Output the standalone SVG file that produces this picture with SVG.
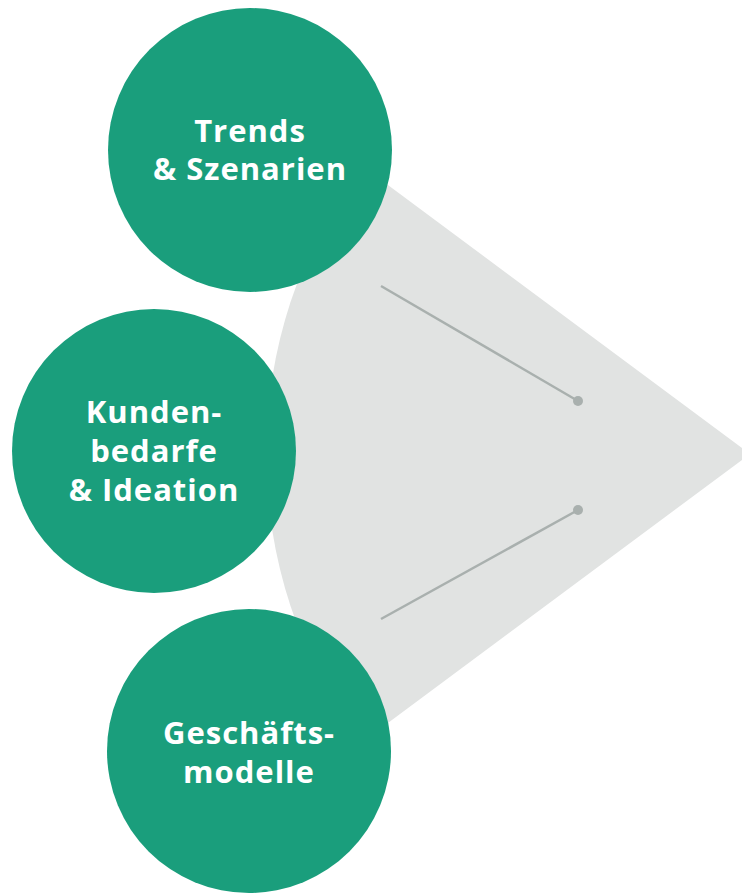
<svg xmlns="http://www.w3.org/2000/svg" width="742" height="894" viewBox="0 0 742 894">
<style>
.node{fill:#1a9e7c}
.lbl{fill:#ffffff;font-family:"Open Sans","Liberation Sans",sans-serif;font-weight:bold;font-size:31px;letter-spacing:1px;text-anchor:middle}
.conn{stroke:#a9b0ae;stroke-width:2.5;fill:none}
.dot{fill:#a9b0ae}
</style>
<rect width="742" height="894" fill="#ffffff"/>
<path id="cone" d="M750,454 L361,165 A488,488 0 0 0 361,743 Z" fill="#e1e3e2"/>
<g id="connectors">
<line class="conn" x1="381" y1="286" x2="578" y2="401"/>
<circle class="dot" cx="578" cy="401" r="5"/>
<line class="conn" x1="381" y1="619" x2="578" y2="510"/>
<circle class="dot" cx="578" cy="510" r="5"/>
</g>
<g id="trends">
<circle class="node" cx="250" cy="150" r="142"/>
<text class="lbl" x="250" y="142">Trends</text>
<text class="lbl" x="250" y="180">&amp; Szenarien</text>
</g>
<g id="kunden">
<circle class="node" cx="154" cy="451" r="142"/>
<text class="lbl" x="154" y="423">Kunden-</text>
<text class="lbl" x="154" y="462">bedarfe</text>
<text class="lbl" x="154" y="501">&amp; Ideation</text>
</g>
<g id="geschaeft">
<circle class="node" cx="249" cy="751" r="142"/>
<text class="lbl" x="249" y="744">Geschäfts-</text>
<text class="lbl" x="249" y="783">modelle</text>
</g>
</svg>
